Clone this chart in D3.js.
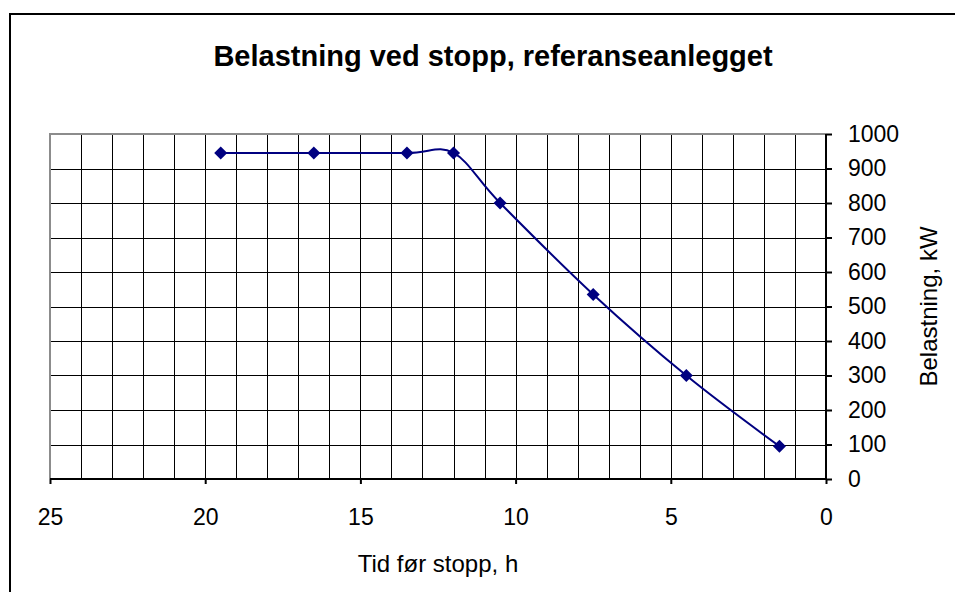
<!DOCTYPE html>
<html>
<head>
<meta charset="utf-8">
<script src="https://cdn.jsdelivr.net/npm/d3@7"></script>
<style>
  html, body { margin: 0; padding: 0; background: #fff; }
  svg { display: block; font-family: Arial, "Liberation Sans", sans-serif; }
</style>
</head>
<body>
<svg id="chart" width="955" height="592"></svg>
<script>
// Hours before shutdown and the measured load (kW)
const hoursBeforeStop = [19.5, 16.5, 13.5, 12, 10.5, 7.5, 4.5, 1.5];
const loadKW = [945, 945, 945, 945, 800, 535, 300, 95];

const xTicks = [25, 20, 15, 10, 5, 0];
const yTicks = [0, 100, 200, 300, 400, 500, 600, 700, 800, 900, 1000];

const titleText = "Belastning ved stopp, referanseanlegget";
const xTitle = "Tid før stopp, h";
const yTitle = "Belastning, kW";

const svg = d3.select("#chart");
const W = 955, H = 592;
const FONT = "Arial, 'Liberation Sans', sans-serif";
const LABEL_SIZE = 23;

// outer chart frame
svg.append("rect")
  .attr("x", 10).attr("y", 14)
  .attr("width", W).attr("height", H)
  .attr("fill", "#fff")
  .attr("stroke", "#000").attr("stroke-width", 2);

const plot = { left: 50, right: 826, top: 134, bottom: 479 };

// time axis runs backwards: 25 h on the left, 0 h at the right
const x = d3.scaleLinear().domain([25, 0]).range([plot.left, plot.right]);
const y = d3.scaleLinear().domain([0, 1000]).range([plot.bottom, plot.top]);

const grid = svg.append("g");
// vertical grid every hour
grid.selectAll("line.v")
  .data(d3.range(24, 0, -1))
  .join("line")
  .attr("x1", d => Math.round(x(d)) + 0.5).attr("x2", d => Math.round(x(d)) + 0.5)
  .attr("y1", plot.top).attr("y2", plot.bottom)
  .attr("stroke", "#000").attr("stroke-width", 1);
// horizontal grid every 100 kW
grid.selectAll("line.h")
  .data(yTicks.filter(v => v > 0 && v < 1000))
  .join("line")
  .attr("x1", plot.left).attr("x2", plot.right)
  .attr("y1", d => Math.round(y(d)) + 0.5).attr("y2", d => Math.round(y(d)) + 0.5)
  .attr("stroke", "#000").attr("stroke-width", 1);

// grey plot-area border (top and left)
svg.append("path")
  .attr("d", `M${plot.left},${plot.bottom} V${plot.top} H${plot.right}`)
  .attr("fill", "none").attr("stroke", "#8c8c8c").attr("stroke-width", 2);

// x axis
const xAxis = d3.axisBottom(x).tickValues(xTicks).tickSize(5).tickPadding(25)
  .tickFormat(d3.format("d"));
const gx = svg.append("g").attr("transform", `translate(0,${plot.bottom})`).call(xAxis);
gx.select(".domain").attr("stroke", "#000").attr("stroke-width", 2)
  .attr("d", `M${plot.left},0H${plot.right}`);
gx.selectAll(".tick line").attr("stroke", "#000").attr("stroke-width", 2);
gx.selectAll(".tick text").attr("font-size", LABEL_SIZE).attr("fill", "#000")
  .attr("font-family", FONT);

// y axis on the right
const yAxis = d3.axisRight(y).tickValues(yTicks).tickSize(6).tickPadding(16)
  .tickFormat(d3.format("d"));
const gy = svg.append("g").attr("transform", `translate(${plot.right},0)`).call(yAxis);
gy.select(".domain").attr("stroke", "#000").attr("stroke-width", 2)
  .attr("d", `M0,${plot.top}V${plot.bottom}`);
gy.selectAll(".tick line").attr("stroke", "#000").attr("stroke-width", 2);
gy.selectAll(".tick text").attr("font-size", LABEL_SIZE).attr("fill", "#000")
  .attr("font-family", FONT);

// smoothed load curve
const pts = hoursBeforeStop.map((h, i) => [h, loadKW[i]]);
const line = d3.line()
  .x(d => x(d[0])).y(d => y(d[1]))
  .curve(d3.curveCardinal.tension(0));
svg.append("path")
  .datum(pts)
  .attr("d", line)
  .attr("fill", "none")
  .attr("stroke", "#000080")
  .attr("stroke-width", 2);

// diamond markers
const diamond = d3.symbol().type(d3.symbolSquare).size(85);
svg.selectAll("path.marker")
  .data(pts)
  .join("path")
  .attr("class", "marker")
  .attr("d", diamond)
  .attr("transform", d => `translate(${x(d[0])},${y(d[1])}) rotate(45)`)
  .attr("fill", "#000080");

// titles
svg.append("text")
  .attr("x", 493).attr("y", 66)
  .attr("text-anchor", "middle")
  .attr("font-size", 29).attr("font-weight", "bold")
  .text(titleText);

svg.append("text")
  .attr("x", (plot.left + plot.right) / 2).attr("y", 572)
  .attr("text-anchor", "middle")
  .attr("font-size", LABEL_SIZE + 1)
  .text(xTitle);

svg.append("text")
  .attr("transform", `translate(937,${(plot.top + plot.bottom) / 2}) rotate(-90)`)
  .attr("text-anchor", "middle")
  .attr("font-size", LABEL_SIZE + 1)
  .text(yTitle);
</script>
</body>
</html>
